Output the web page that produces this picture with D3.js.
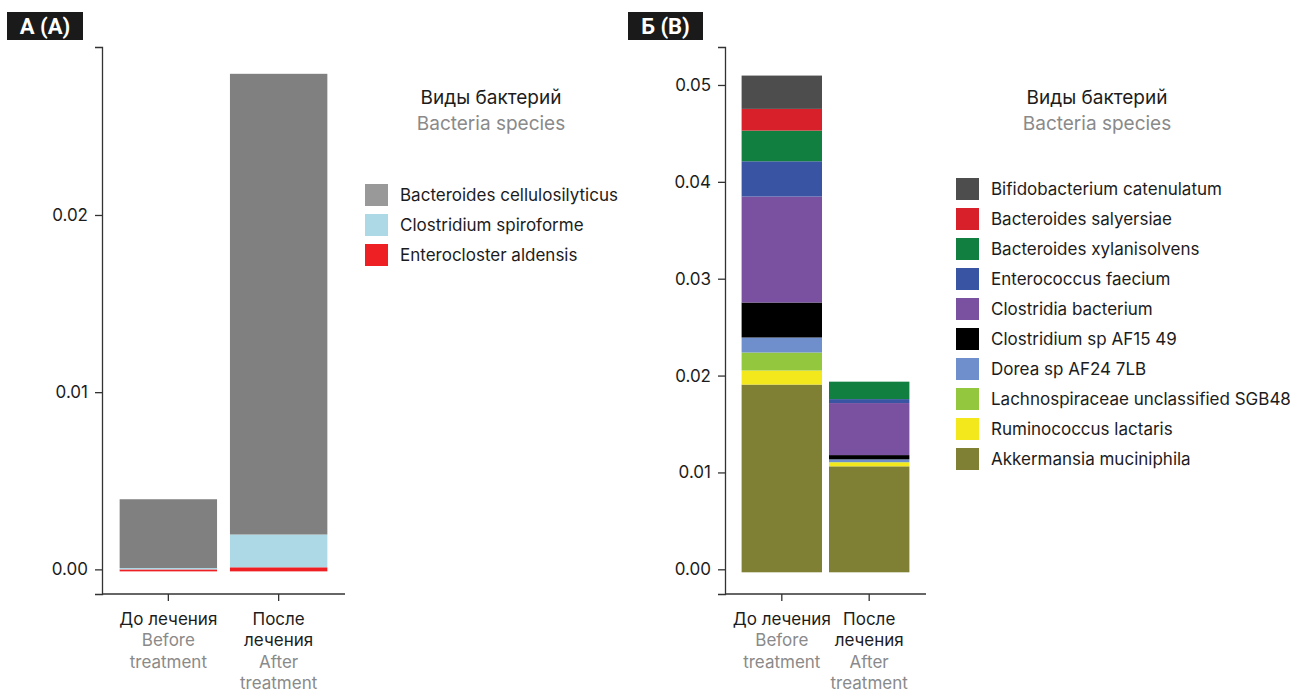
<!DOCTYPE html>
<html>
<head>
<meta charset="utf-8">
<script src="https://cdn.jsdelivr.net/npm/d3@7"></script>
<style>
  html, body { margin: 0; padding: 0; background: #fff; }
  svg { display: block; font-family: Inter, Roboto, "Noto Sans", sans-serif; }
</style>
</head>
<body>
<svg id="chart" width="1290" height="692"></svg>
<script>
// ---------- DATA ----------
const groupsRu = [["До лечения"], ["После", "лечения"]];
const groupsEn = [["Before", "treatment"], ["After", "treatment"]];
const groupKeys = ["before", "after"];

const legendTitleRu = "Виды бактерий";
const legendTitleEn = "Bacteria species";

// Panel A
const speciesA = ["Bacteroides cellulosilyticus", "Clostridium spiroforme", "Enterocloster aldensis"];
const colorsA = ["#808080", "#add8e6", "#ef2024"];
const beforeA = [0.00388, 0.00008, 0.00011];
const afterA  = [0.02600, 0.00185, 0.00023];
const ticksA = [0, 0.01, 0.02];

// Panel B
const speciesB = ["Bifidobacterium catenulatum", "Bacteroides salyersiae", "Bacteroides xylanisolvens",
  "Enterococcus faecium", "Clostridia bacterium", "Clostridium sp AF15 49", "Dorea sp AF24 7LB",
  "Lachnospiraceae unclassified SGB48", "Ruminococcus lactaris", "Akkermansia muciniphila"];
const colorsB = ["#4d4d4d", "#d7202a", "#107f40", "#3a54a4", "#7a51a0", "#000000", "#6e8fcb",
  "#93c83e", "#f3e81b", "#7f8033"];
const beforeB = [0.00344, 0.00224, 0.00317, 0.00364, 0.01094, 0.00361, 0.00155, 0.00186, 0.00145, 0.01938];
const afterB  = [0.00000, 0.00000, 0.00180, 0.00041, 0.00537, 0.00044, 0.00028, 0.00003, 0.00041, 0.01094];
const ticksB = [0, 0.01, 0.02, 0.03, 0.04, 0.05];

// ---------- DRAW ----------
const svg = d3.select("#chart");
const inkDark = "#1c1c1c", inkGrey = "#8a8a8a", axisCol = "#333";
const fontMain = "Inter, Roboto, sans-serif";

function panel(cfg) {
  const g = svg.append("g");
  // panel label
  const lab = g.append("g");
  lab.append("rect").attr("x", cfg.labelX).attr("y", 12).attr("width", cfg.labelW).attr("height", 28).attr("fill", "#1a1a1a");
  lab.append("text").attr("x", cfg.labelX + cfg.labelW / 2).attr("y", 34).attr("text-anchor", "middle")
    .attr("fill", "#fff").attr("font-size", 22).attr("font-weight", 700).attr("font-family", "Roboto, Arial, sans-serif")
    .text(cfg.label);

  const x = d3.scaleBand().domain(groupKeys).range([cfg.x0, cfg.x1]).paddingInner(cfg.padIn).paddingOuter(cfg.padOut);
  const y = d3.scaleLinear().domain(cfg.yDomain).range([594, 47]);

  // stacked data
  const rows = groupKeys.map((k, gi) => {
    const o = { key: k };
    cfg.species.forEach((s, i) => { o[s] = (gi === 0 ? cfg.before : cfg.after)[i]; });
    return o;
  });
  const order = cfg.species.slice().reverse(); // last legend entry at bottom
  const stack = d3.stack().keys(order)(rows);
  const color = d3.scaleOrdinal().domain(cfg.species).range(cfg.colors);

  const bars = g.append("g").attr("transform", `translate(0,${cfg.barShift})`);
  stack.forEach(layer => {
    bars.selectAll(null).data(layer).enter().append("rect")
      .attr("x", d => x(d.data.key))
      .attr("width", x.bandwidth())
      .attr("y", d => y(d[1]))
      .attr("height", d => Math.max(0, y(d[0]) - y(d[1])))
      .attr("fill", color(layer.key));
  });

  // y axis
  const yAxis = g.append("g").attr("transform", `translate(${cfg.x0},0)`)
    .call(d3.axisLeft(y).tickValues(cfg.ticks).tickFormat(d3.format(".2f")).tickSize(7).tickPadding(7));
  yAxis.select(".domain").attr("stroke", axisCol).attr("stroke-width", 1.3);
  yAxis.selectAll(".tick line").attr("stroke", axisCol).attr("stroke-width", 1.3);
  yAxis.selectAll(".tick text").attr("font-size", 17).attr("fill", inkDark).attr("font-family", fontMain);

  // x axis
  const xAxis = g.append("g").attr("transform", `translate(0,594)`)
    .call(d3.axisBottom(x).tickSize(7).tickFormat(""));
  xAxis.select(".domain").attr("stroke", axisCol).attr("stroke-width", 1.3).attr("d", `M${cfg.x0},0H${cfg.x1}`);
  xAxis.selectAll(".tick line").attr("stroke", axisCol).attr("stroke-width", 1.3);

  groupKeys.forEach((k, gi) => {
    const cx = x(k) + x.bandwidth() / 2;
    const lines = groupsRu[gi].map(t => ({ t, c: inkDark })).concat(groupsEn[gi].map(t => ({ t, c: inkGrey })));
    const t = g.append("text").attr("text-anchor", "middle").attr("font-size", 17);
    lines.forEach((l, li) => {
      t.append("tspan").attr("x", cx).attr("y", 625 + li * 21.3).attr("fill", l.c).text(l.t);
    });
  });

  // legend
  const lg = g.append("g");
  lg.append("text").attr("x", cfg.legTitleX).attr("y", 104).attr("text-anchor", "middle")
    .attr("font-size", 19).attr("fill", inkDark).text(legendTitleRu);
  lg.append("text").attr("x", cfg.legTitleX).attr("y", 130).attr("text-anchor", "middle")
    .attr("font-size", 19).attr("fill", inkGrey).text(legendTitleEn);
  cfg.species.forEach((s, i) => {
    const yy = cfg.legY + i * 30;
    lg.append("rect").attr("x", cfg.legX).attr("y", yy).attr("width", 23).attr("height", 22)
      .attr("fill", color(s)).attr("fill-opacity", cfg.swatchOpacity ? cfg.swatchOpacity[i] : 1);
    lg.append("text").attr("x", cfg.legX + 35).attr("y", yy + 17).attr("font-size", 17).attr("fill", inkDark).text(s);
  });
}

panel({
  label: "А (А)", labelX: 7, labelW: 76,
  x0: 102, x1: 345, padIn: 0.117, padOut: 0.16,
  yDomain: [-0.00139, 0.02948], ticks: ticksA, barShift: 2,
  species: speciesA, colors: colorsA, before: beforeA, after: afterA,
  legTitleX: 491, legX: 365, legY: 184, swatchOpacity: [0.8, 1, 1]
});

panel({
  label: "Б (В)", labelX: 628, labelW: 75,
  x0: 725, x1: 926, padIn: 0.08, padOut: 0.19,
  yDomain: [-0.00255, 0.05392], ticks: ticksB, barShift: 3,
  species: speciesB, colors: colorsB, before: beforeB, after: afterB,
  legTitleX: 1097, legX: 956, legY: 178
});
</script>
</body>
</html>
